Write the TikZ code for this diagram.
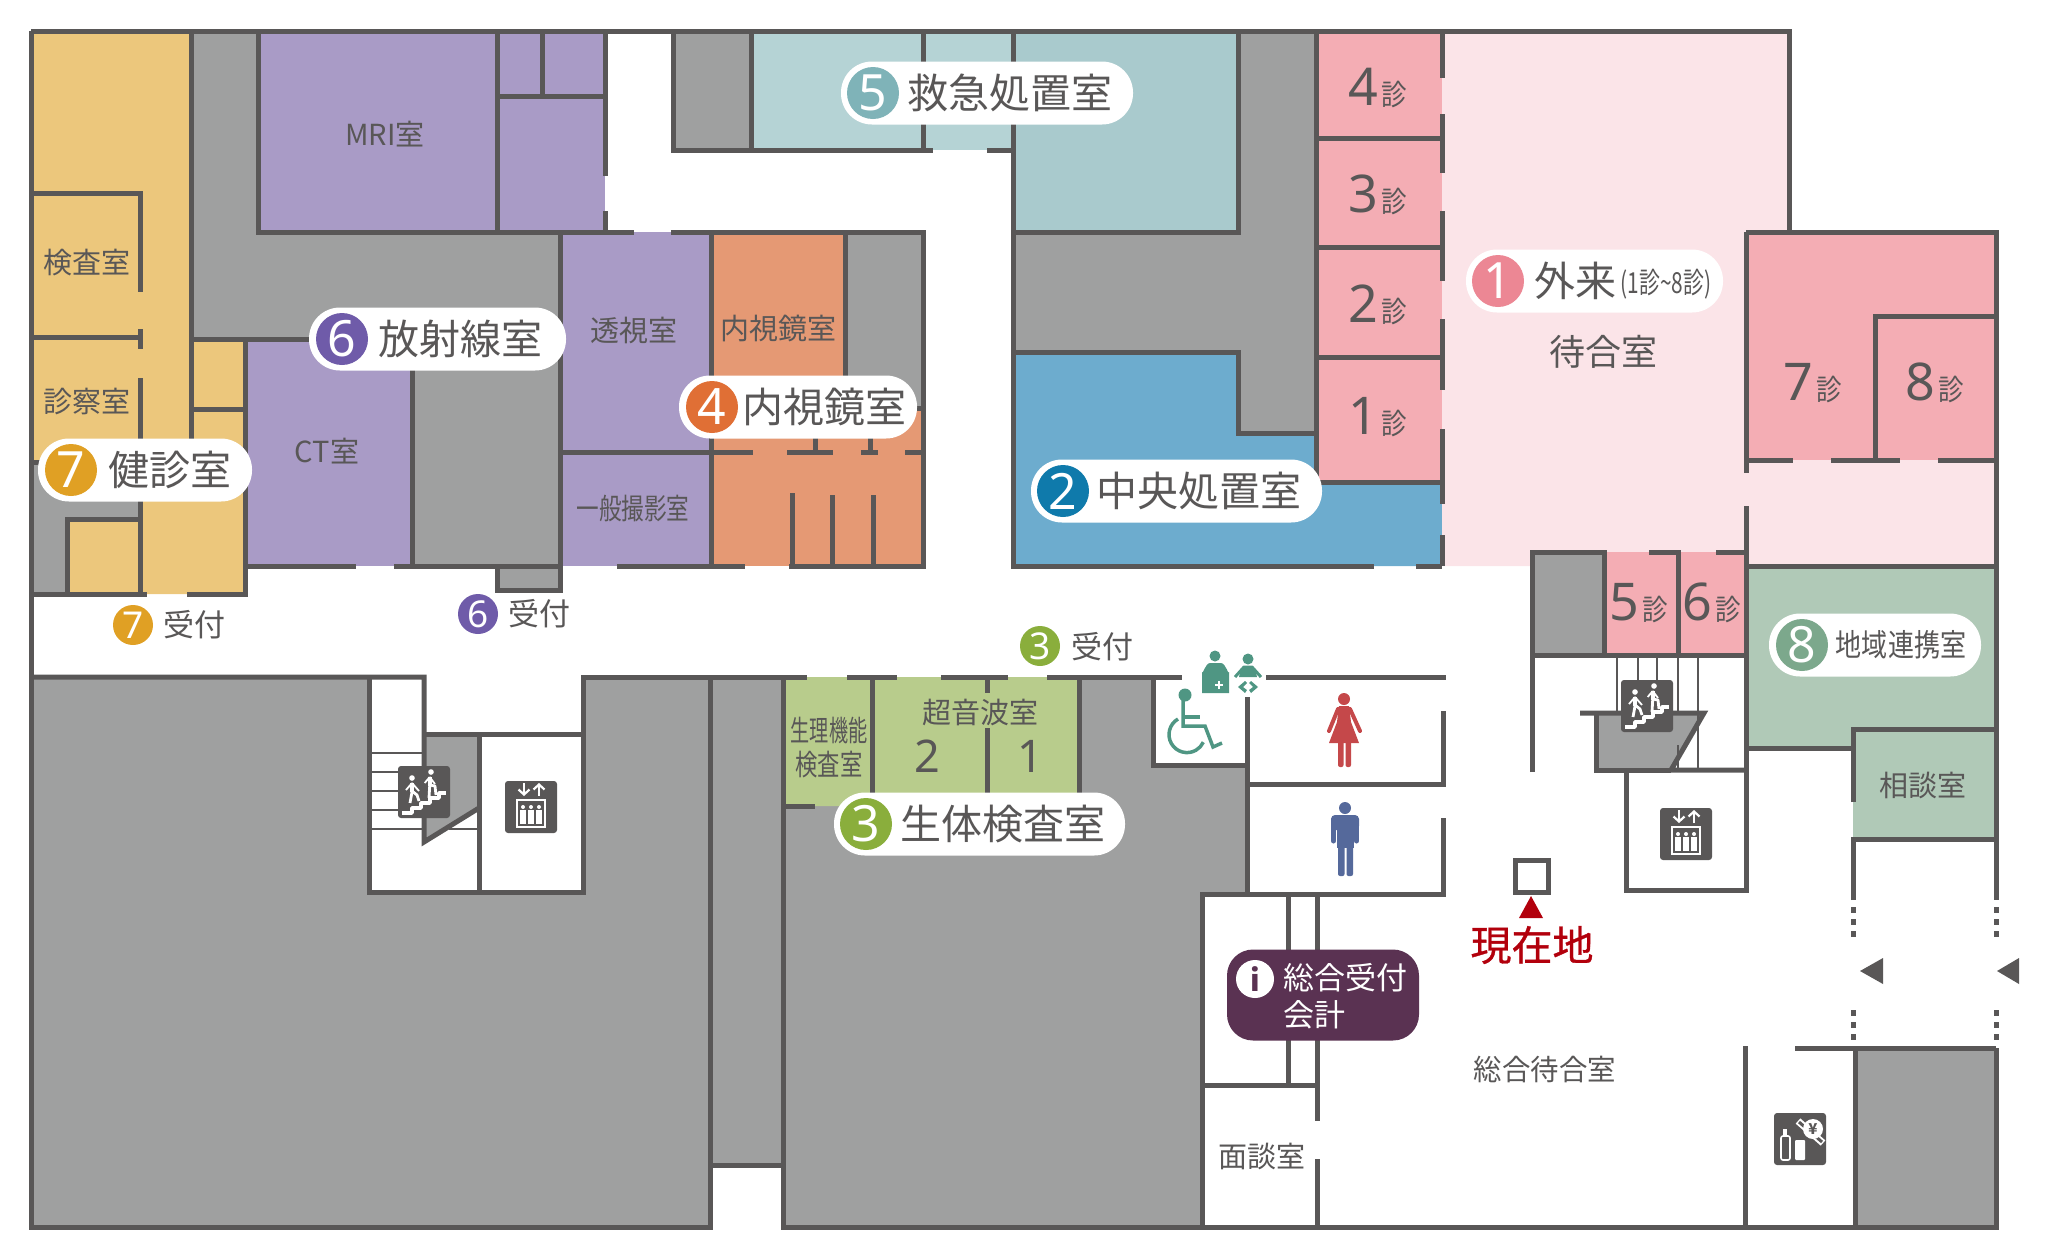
\documentclass[tikz,border=0pt]{standalone}
\usepackage{fontspec}
\setmainfont{Noto Sans CJK JP}
\newfontfamily\numfont{Noto Sans}
\newfontfamily\herefont[FakeBold=0.8]{Noto Sans CJK JP}
\usetikzlibrary{arrows.meta}

\definecolor{wallc}{HTML}{595757}
\definecolor{grayc}{HTML}{9FA0A0}
\definecolor{yellowc}{HTML}{ECC77C}
\definecolor{purplec}{HTML}{A99BC6}
\definecolor{orangec}{HTML}{E59974}
\definecolor{tealA}{HTML}{B5D3D5}
\definecolor{tealB}{HTML}{A9CACD}
\definecolor{bluec}{HTML}{6DACCE}
\definecolor{pinkA}{HTML}{F4ADB4}
\definecolor{pinkB}{HTML}{FBE4E8}
\definecolor{greenc}{HTML}{B8CC8C}
\definecolor{sagec}{HTML}{B0C9B7}
\definecolor{badgeA}{HTML}{EC8794}
\definecolor{badgeB}{HTML}{0F7AAB}
\definecolor{badgeC}{HTML}{8AAE3C}
\definecolor{badgeD}{HTML}{E06F35}
\definecolor{badgeE}{HTML}{7FB3B8}
\definecolor{badgeF}{HTML}{6F5BA9}
\definecolor{badgeG}{HTML}{E0A024}
\definecolor{badgeH}{HTML}{7CA88C}
\definecolor{infoc}{HTML}{5A3252}
\definecolor{redc}{HTML}{B2000C}
\definecolor{careC}{HTML}{4F9683}
\definecolor{womanc}{HTML}{C5484A}
\definecolor{manc}{HTML}{55699B}

\tikzset{
  wall/.style={draw=wallc,line width=5pt},
  thin wall/.style={draw=wallc,line width=2.5pt},
  txt/.style={text=wallc,inner sep=0pt,yshift=-1pt,font=\fontsize{29}{34}\selectfont},
  bigtxt/.style={text=wallc,inner sep=0pt,font=\fontsize{41}{48}\selectfont},
  recep/.style={text=wallc,inner sep=0pt,yshift=-2pt,font=\fontsize{31}{36}\selectfont},
  numtxt/.style={text=wallc,inner sep=0pt,yshift=-2pt,font=\numfont\fontsize{52}{60}\selectfont},
  shintxt/.style={text=wallc,inner sep=0pt,yshift=-1pt,font=\fontsize{29}{30}\selectfont},
  pill/.style={fill=white,inner sep=0pt,minimum height=63pt,rounded corners=31pt},
  badge/.style={circle,fill=#1,text=white,inner sep=0pt,minimum size=52pt,font=\numfont\fontsize{50}{56}\selectfont},
  smallbadge/.style={circle,fill=#1,text=white,inner sep=0pt,minimum size=40pt,font=\numfont\fontsize{37}{42}\selectfont},
}

\newcommand{\stairicon}[2]{
\begin{scope}[shift={(#1,#2)},line join=round]
\fill[wallc,rounded corners=3pt] (-26,-26) rectangle (26,26);
\draw[white,line width=3.5pt] (-22,21) -- (-12,21) -- (-12,16) -- (-3,16) -- (-3,11) -- (6,11) -- (6,6) -- (15,6) -- (15,1) -- (22,1);
\fill[white] (-12,-14) circle (2.8);
\draw[white,line width=4pt] (-12,-9) -- (-12,0);
\draw[white,line width=2.8pt] (-12,0) -- (-14,11);
\draw[white,line width=2.8pt] (-12,-1) -- (-7,3) -- (-5,9);
\draw[white,line width=1.8pt] (-12,-9) -- (-18,-2);
\draw[white,line width=1.8pt] (-12,-9) -- (-5,-1);
\fill[white] (7,-20) circle (2.8);
\draw[white,line width=4pt] (5.7,-15) -- (5.7,-6);
\draw[white,line width=2.8pt] (5.7,-6) -- (5,6);
\draw[white,line width=2.8pt] (5.7,-7) -- (11,-6) -- (12,3);
\draw[white,line width=1.8pt] (5.7,-15) -- (0.7,-9);
\draw[white,line width=1.8pt] (5.7,-15) -- (11,-8);
\end{scope}
}

\newcommand{\eleicon}[2]{
\begin{scope}[shift={(#1,#2)}]
\fill[wallc,rounded corners=3pt] (-26,-26) rectangle (26,26);
\draw[white,line width=2.2pt,-{Straight Barb[length=5pt,width=11pt]}] (-7,-24) -- (-7,-11);
\draw[white,line width=2.2pt,-{Straight Barb[length=5pt,width=11pt]}] (8,-11) -- (8,-24);
\draw[white,line width=2pt] (-14,-7) rectangle (14,20);
\foreach \px in {-8,0,8} {
  \fill[white] (\px,0) circle (2);
  \fill[white] (\px-2.7,3) rectangle (\px+2.7,17);
}
\end{scope}
}

\newcommand{\vendicon}[2]{
\begin{scope}[shift={(#1,#2)}]
\fill[wallc,rounded corners=3pt] (-26,-26) rectangle (26,26);
\draw[white,line width=1.6pt,rounded corners=2pt] (-19,21) rectangle (-10,-3);
\fill[white] (-17,-10) rectangle (-13,-3);
\fill[white,rounded corners=1pt] (-5,1) rectangle (5,21);
\draw[white,line width=7pt] (-2,-18) -- (23,4);
\draw[wallc,line width=3pt] (-1,-17) -- (22,3);
\fill[white] (13,-10) circle (10);
\node[text=wallc,inner sep=0pt,font=\bfseries\fontsize{15}{15}\selectfont] (yen) at (13,-10) {¥};
\end{scope}
}

\begin{document}
\begin{tikzpicture}[line join=miter,line cap=butt,x=1pt,y=-1pt]
\useasboundingbox (0,0) rectangle (2048,1259);

\fill[yellowc] (31,31) -- (191,31) -- (191,339) -- (245,339) -- (245,594) -- (31,594) -- cycle;
\fill[grayc] (31,462) -- (140,462) -- (140,519) -- (67,519) -- (67,594) -- (31,594) -- cycle;
\fill[grayc] (191,31) -- (258,31) -- (258,232) -- (560,232) -- (560,566) -- (412,566) -- (412,339) -- (191,339) -- cycle;
\fill[purplec] (258,31) rectangle (605,232);
\fill[purplec] (560,232) rectangle (711,566);
\fill[purplec] (245,339) rectangle (412,566);
\fill[grayc] (497,566) rectangle (560,590);
\fill[orangec] (711,232) rectangle (923,566);
\fill[grayc] (845,232) rectangle (923,408);
\fill[grayc] (673,31) rectangle (751,150);
\fill[tealA] (751,31) rectangle (1013,150);
\fill[tealB] (1013,31) rectangle (1238,232);
\fill[grayc] (1013,232) rectangle (1238,352);
\fill[grayc] (1238,31) rectangle (1316,433);
\fill[bluec] (1013,352) -- (1238,352) -- (1238,433) -- (1316,433) -- (1316,482) -- (1442,482) -- (1442,566) -- (1013,566) -- cycle;
\fill[pinkA] (1316,31) rectangle (1442,482);
\fill[pinkB] (1442,31) -- (1789,31) -- (1789,232) -- (1746,232) -- (1746,460) -- (1996,460) -- (1996,566) -- (1746,566) -- (1746,552) -- (1532,552) -- (1532,566) -- (1442,566) -- cycle;
\fill[pinkA] (1746,232) rectangle (1996,460);
\fill[pinkA] (1604,552) rectangle (1746,655);
\fill[grayc] (1532,552) rectangle (1604,655);
\fill[sagec] (1746,566) -- (1996,566) -- (1996,839) -- (1853,839) -- (1853,748) -- (1746,748) -- cycle;
\fill[grayc] (1596,713) -- (1704,713) -- (1671,770) -- (1596,770) -- cycle;
\fill[grayc] (1855,1048) rectangle (1996,1227);
\fill[grayc] (31,677) -- (369,677) -- (369,892) -- (583,892) -- (583,677) -- (783,677) -- (783,1165) -- (710,1165) -- (710,1227) -- (31,1227) -- cycle;
\fill[grayc] (424,734) -- (479,734) -- (479,808) -- (424,842) -- cycle;
\fill[grayc] (783,677) -- (1153,677) -- (1153,765) -- (1247,765) -- (1247,894) -- (1202,894) -- (1202,1227) -- (783,1227) -- cycle;
\fill[greenc] (783,677) -- (1079,677) -- (1079,795) -- (900,795) -- (900,806) -- (783,806) -- cycle;

\foreach \sy in {753,772,791,810,829}
  \draw[thin wall] (369,\sy) -- (424,\sy);
\draw[thin wall] (449,829) -- (479,829);
\foreach \sx in {1617,1638,1657,1678,1698}
  \draw[thin wall] (\sx,655) -- (\sx,713);
\draw[thin wall] (1678,745) -- (1678,770);
\draw[thin wall] (1698,715) -- (1698,770);

\draw[wall] (31,31) -- (1789,31) -- (1789,232);
\draw[wall] (31,31) -- (31,1227) -- (710,1227) -- (710,677);
\draw[wall] (1996,1048) -- (1996,1227) -- (783,1227) -- (783,677);
\draw[wall] (31,193) -- (140,193) -- (140,292);
\draw[wall] (31,337) -- (140,337);
\draw[wall] (140,329) -- (140,349);
\draw[wall] (140,378) -- (140,594);
\draw[wall] (31,462) -- (60,462);
\draw[wall] (67,594) -- (67,519) -- (140,519);
\draw[wall] (31,594) -- (147,594);
\draw[wall] (187,594) -- (245,594) -- (245,339);
\draw[wall] (191,31) -- (191,470);
\draw[wall] (191,339) -- (412,339) -- (412,566);
\draw[wall] (191,409) -- (245,409);
\draw[wall] (245,566) -- (356,566);
\draw[wall] (394,566) -- (560,566);
\draw[wall] (497,566) -- (497,590) -- (560,590) -- (560,232);
\draw[wall] (617,566) -- (745,566);
\draw[wall] (789,566) -- (923,566) -- (923,232) -- (671,232);
\draw[wall] (258,31) -- (258,232) -- (634,232);
\draw[wall] (497,31) -- (497,232);
\draw[wall] (542,31) -- (542,96);
\draw[wall] (497,96) -- (605,96);
\draw[wall] (605,31) -- (605,176);
\draw[wall] (605,211) -- (605,232);
\draw[wall] (560,452) -- (753,452);
\draw[wall] (787,452) -- (833,452);
\draw[wall] (861,452) -- (878,452);
\draw[wall] (905,452) -- (923,452);
\draw[wall] (815,430) -- (815,452);
\draw[wall] (870,430) -- (870,452);
\draw[wall] (711,232) -- (711,566);
\draw[wall] (845,232) -- (845,408) -- (923,408);
\draw[wall] (792,493) -- (792,566);
\draw[wall] (832,495) -- (832,566);
\draw[wall] (873,495) -- (873,566);
\draw[wall] (673,31) -- (673,150) -- (933,150);
\draw[wall] (987,150) -- (1013,150);
\draw[wall] (751,31) -- (751,150);
\draw[wall] (923,31) -- (923,150);
\draw[wall] (1013,31) -- (1013,566) -- (1374,566);
\draw[wall] (1416,566) -- (1442,566);
\draw[wall] (1013,232) -- (1238,232) -- (1238,31);
\draw[wall] (1013,352) -- (1238,352) -- (1238,433) -- (1316,433);
\draw[wall] (1316,31) -- (1316,482) -- (1442,482);
\foreach \ry in {138,247,357}
  \draw[wall] (1316,\ry) -- (1442,\ry);
\foreach \ya/\yb in {31/78,114/173,211/281,319/390,429/504,535/566}
  \draw[wall] (1442,\ya) -- (1442,\yb);
\draw[wall] (1746,232) -- (1996,232) -- (1996,900);
\draw[wall] (1746,232) -- (1746,473);
\draw[wall] (1746,506) -- (1746,890) -- (1626,890) -- (1626,770);
\draw[wall] (1875,460) -- (1875,316) -- (1996,316);
\draw[wall] (1746,460) -- (1793,460);
\draw[wall] (1831,460) -- (1900,460);
\draw[wall] (1938,460) -- (1996,460);
\draw[wall] (1746,566) -- (1996,566);
\draw[wall] (1532,772) -- (1532,552) -- (1604,552) -- (1604,655);
\draw[wall] (1649,552) -- (1678,552) -- (1678,655);
\draw[wall] (1716,552) -- (1746,552);
\draw[wall] (1532,655) -- (1746,655);
\draw[wall] (1580,713) -- (1704,713) -- (1671,770) -- (1746,770);
\draw[wall] (1596,713) -- (1596,770) -- (1671,770);
\draw[wall] (1746,748) -- (1853,748);
\draw[wall] (1853,802) -- (1853,729) -- (1996,729);
\draw[wall] (1853,900) -- (1853,839) -- (1996,839);
\foreach \dy in {910,922,934,1013,1025,1037} {
  \fill[wallc] (1851,\dy-3) rectangle (1856,\dy+3);
  \fill[wallc] (1994,\dy-3) rectangle (1999,\dy+3);
}
\draw[wall] (1795,1048) -- (1996,1048);
\draw[wall] (1855,1048) -- (1855,1227);
\draw[wall] (1745,1046) -- (1745,1227);
\draw[wall] (31,677) -- (424,677) -- (424,842) -- (479,808);
\draw[wall] (369,677) -- (369,892) -- (583,892) -- (583,677) -- (807,677);
\draw[wall] (424,734) -- (583,734);
\draw[wall] (479,734) -- (479,892);
\draw[wall] (710,1165) -- (783,1165);
\draw[wall] (847,677) -- (897,677);
\draw[wall] (941,677) -- (1008,677);
\draw[wall] (1047,677) -- (1182,677);
\draw[wall] (1266,677) -- (1446,677);
\draw[wall] (783,806) -- (815,806);
\draw[wall] (872,677) -- (872,800);
\draw[wall] (987,677) -- (987,693);
\draw[wall] (987,728) -- (987,800);
\draw[wall] (1079,677) -- (1079,800);
\draw[wall] (1153,677) -- (1153,765) -- (1247,765);
\draw[wall] (1247,697) -- (1247,894);
\draw[wall] (1247,784) -- (1443,784) -- (1443,711);
\draw[wall] (1443,818) -- (1443,894) -- (1202,894) -- (1202,1227);
\draw[wall] (1288,894) -- (1288,1085);
\draw[wall] (1202,1085) -- (1317,1085);
\draw[wall] (1317,894) -- (1317,1121);
\draw[wall] (1317,1159) -- (1317,1227);
\draw[wall] (1515,860) rectangle (1548,892);

\fill[wallc] (1860,971) -- (1883,958) -- (1883,984) -- cycle;
\fill[wallc] (1997,971) -- (2019,958) -- (2019,984) -- cycle;
\fill[redc] (1531,896) -- (1543,918) -- (1519,918) -- cycle;

\stairicon{424}{792}
\eleicon{531}{807}
\stairicon{1647}{706}
\eleicon{1686}{834}
\vendicon{1800}{1139}

\draw[careC,line width=3.5pt] (1183,695) -- (1183,726) -- (1205,726) -- (1213,747) -- (1222,743);
\draw[careC,line width=3.5pt] (1183,717) -- (1200,717);
\draw[careC,line width=3.5pt] (1178,719) arc (120:335:18pt);
\fill[careC] (1185,695) circle (6.5);
\fill[careC] (1215,656) circle (5.5);
\fill[careC] (1202,693) -- (1202,672) to[out=-90,in=180] (1210,663) -- (1221,663) to[out=0,in=-90] (1229,672) -- (1229,693) -- cycle;
\draw[white,line width=1.8pt] (1215,685) -- (1223,685) (1219,681) -- (1219,689);
\fill[careC] (1248,659) circle (5.5);
\draw[careC,line width=3pt,line join=round] (1235,677) -- (1244,667) -- (1252,667) -- (1261,677);
\fill[careC] (1241,668) -- (1255,668) -- (1257,677) -- (1239,677) -- cycle;
\fill[careC] (1245,681) -- (1238,687) -- (1245,693) -- (1247,690) -- (1243,687) -- (1247,683) -- cycle;
\fill[careC] (1251,681) -- (1258,687) -- (1251,693) -- (1249,690) -- (1253,687) -- (1249,683) -- cycle;

\fill[womanc] (1344,699) circle (6);
\fill[womanc] (1339,706) -- (1349,706) -- (1351,722) -- (1359,743) -- (1329,743) -- (1337,722) -- cycle;
\draw[womanc,line width=4pt,line cap=round] (1338,709) -- (1329,731);
\draw[womanc,line width=4pt,line cap=round] (1350,709) -- (1360,731);
\fill[womanc,rounded corners=2pt] (1338,740) rectangle (1343.5,767);
\fill[womanc,rounded corners=2pt] (1345.5,740) rectangle (1351,767);
\fill[manc] (1345,808) circle (6);
\fill[manc,rounded corners=4pt] (1331,815) rectangle (1359,830);
\fill[manc] (1337,818) rectangle (1354,848);
\draw[manc,line width=5pt,line cap=round] (1333.5,820) -- (1333.5,841);
\draw[manc,line width=5pt,line cap=round] (1356.5,820) -- (1356.5,841);
\fill[manc,rounded corners=2pt] (1338,840) rectangle (1344.5,876);
\fill[manc,rounded corners=2pt] (1346.5,840) rectangle (1353,876);

\foreach \n/\nx/\ny in {4/1363/85,3/1363/192,2/1363/302,1/1363/414,7/1798/380,8/1920/380,5/1624/600,6/1697/600} {
  \node[numtxt] (num\n) at (\nx,\ny) {\n};
  \node[shintxt] (shin\n) at (\nx+31,\ny+9) {\scalebox{0.88}[1]{診}};
}

\node[txt] (kensa) at (87,262) {検査室};
\node[txt] (shinsatsu) at (87,401) {診察室};
\node[txt] (mri) at (385,133) {MRI室};
\node[txt] (ct) at (327,450) {CT室};
\node[txt] (toushi) at (634,329) {透視室};
\node[txt] (ippan) at (633,507) {\scalebox{0.78}[1]{一般撮影室}};
\node[txt] (naishi) at (778,328) {内視鏡室};
\node[txt] (chouon) at (980,711) {超音波室};
\node[numtxt,font=\numfont\fontsize{45}{50}\selectfont] (ultraB) at (927,754) {2};
\node[numtxt,font=\numfont\fontsize{45}{50}\selectfont] (ultraA) at (1030,754) {1};
\node[txt] (seiri) at (829,729) {\scalebox{0.66}[1]{生理機能}};
\node[txt] (kensaB) at (829,764) {\scalebox{0.77}[1]{検査室}};
\node[txt] (mendan) at (1262,1155) {面談室};
\node[txt] (soudan) at (1923,784) {相談室};
\node[txt] (machi) at (1545,1068) {\scalebox{0.98}[1]{総合待合室}};
\node[text=wallc,inner sep=0pt,font=\fontsize{36}{42}\selectfont] (waiting) at (1603,352) {待合室};
\node[text=redc,inner sep=0pt,font=\herefont\fontsize{41}{46}\selectfont] (genzai) at (1532,945) {現在地};

\node[pill,minimum width=214pt] (pillG) at (145,470) {};
\node[pill,minimum width=257pt] (pillF) at (437.5,339) {};
\node[pill,minimum width=292pt] (pillE) at (987,93) {};
\node[pill,minimum width=238pt] (pillD) at (798,407) {};
\node[pill,minimum width=291pt] (pillB) at (1176.5,491) {};
\node[pill,minimum width=257pt] (pillA) at (1594.5,281) {};
\node[pill,minimum width=291pt] (pillC) at (979.5,824) {};
\node[pill,minimum width=212pt] (pillH) at (1875,645) {};

\node[badge=badgeG] (badgeSeven) at (71,470) {7};
\node[bigtxt] (kenshin) at (170,470) {健診室};
\node[badge=badgeF] (badgeSix) at (342,339) {6};
\node[bigtxt] (houshasen) at (460,339) {放射線室};
\node[badge=badgeE] (badgeFive) at (873,93) {5};
\node[bigtxt] (kyukyu) at (1010,93) {救急処置室};
\node[badge=badgeD] (badgeFour) at (712,407) {4};
\node[bigtxt] (naishiB) at (824,407) {内視鏡室};
\node[badge=badgeB] (badgeTwo) at (1063,491) {2};
\node[bigtxt] (chuou) at (1199,491) {中央処置室};
\node[badge=badgeA] (badgeOne) at (1498,281) {1};
\node[bigtxt] (gairai) at (1575,281) {外来};
\node[text=wallc,inner sep=0pt,font=\fontsize{29}{32}\selectfont] (gairaiB) at (1666,284) {\scalebox{0.72}[1]{(1診\symbol{126}8診)}};
\node[badge=badgeC] (badgeThree) at (866,824) {3};
\node[bigtxt] (seitai) at (1003,824) {生体検査室};
\node[badge=badgeH] (badgeEight) at (1802,645) {8};
\node[text=wallc,inner sep=0pt,font=\fontsize{31}{36}\selectfont] (chiiki) at (1901,645) {\scalebox{0.84}[1]{地域連携室}};

\node[smallbadge=badgeG] (recepSeven) at (133,625) {7};
\node[recep] (recepSevenT) at (194,623) {受付};
\node[smallbadge=badgeF] (recepSix) at (478,614) {6};
\node[recep] (recepSixT) at (539,612) {受付};
\node[smallbadge=badgeC] (recepThree) at (1040,646) {3};
\node[recep] (recepThreeT) at (1102,645) {受付};

\node[fill=infoc,inner sep=0pt,minimum width=192pt,minimum height=91pt,rounded corners=26pt] (infobox) at (1323,995) {};
\node[circle,fill=white,text=infoc,inner sep=0pt,minimum size=38pt,font=\bfseries\fontsize{30}{34}\selectfont] (infoi) at (1255,979) {i};
\node[anchor=west,text=white,inner sep=0pt,font=\fontsize{31}{36}\selectfont] (infoA) at (1283,978) {総合受付};
\node[anchor=west,text=white,inner sep=0pt,font=\fontsize{31}{36}\selectfont] (infoB) at (1283,1015) {会計};
\end{tikzpicture}
\end{document}
